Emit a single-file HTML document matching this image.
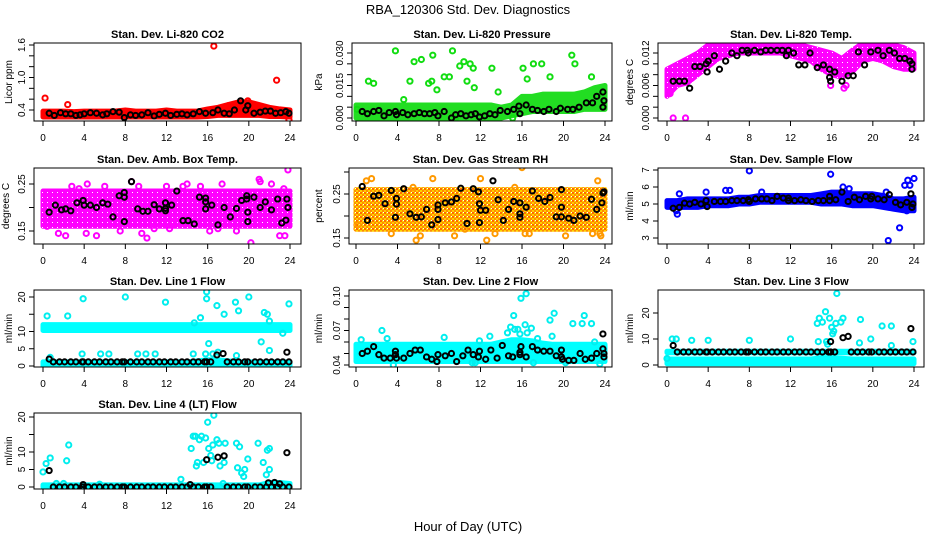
<!DOCTYPE html>
<html><head><meta charset="utf-8"><title>RBA_120306 Std. Dev. Diagnostics</title>
<style>
html,body{margin:0;padding:0;background:#fff;}
svg{display:block;font-family:"Liberation Sans",sans-serif;}
</style></head>
<body>
<svg id="chart" width="936" height="540" viewBox="0 0 936 540" xmlns="http://www.w3.org/2000/svg">
<defs>
<pattern id="pat-rh" width="4" height="4" patternUnits="userSpaceOnUse">
<rect width="4" height="4" fill="#ffd000"/>
<rect x="0" y="0" width="2" height="2" fill="#ff6a00"/>
<rect x="2" y="2" width="2" height="2" fill="#ff8c00"/>
<rect x="3" y="0" width="1" height="1" fill="#fff"/>
</pattern>
<pattern id="pat-mag" width="5" height="5" patternUnits="userSpaceOnUse">
<rect width="5" height="5" fill="#ff00ff"/>
<rect x="2" y="2" width="1" height="1" fill="#fff"/>
</pattern>
</defs>
<rect width="936" height="540" fill="#fff"/>
<text x="468" y="14" text-anchor="middle" font-size="13">RBA_120306  Std. Dev. Diagnostics</text>
<text x="468" y="531" text-anchor="middle" font-size="13">Hour of Day (UTC)</text>
</svg>
<script>
const hours = [0,1,2,3,4,5,6,7,8,9,10,11,12,13,14,15,16,17,18,19,20,21,22,23,24];
const xTicks = [0,4,8,12,16,20,24];

// Panel 1: CO2
const co2Hi = [0.38,0.38,0.38,0.37,0.38,0.38,0.38,0.38,0.40,0.38,0.38,0.38,0.40,0.38,0.38,0.38,0.42,0.45,0.50,0.55,0.55,0.50,0.45,0.42,0.40];
const co2Lo = [0.27,0.27,0.27,0.27,0.27,0.27,0.27,0.27,0.27,0.27,0.27,0.27,0.27,0.27,0.27,0.27,0.28,0.30,0.30,0.30,0.30,0.30,0.28,0.28,0.27];
const co2OutX = [0.2,2.4,16.6,22.7,19.9,18.0,23.9];
const co2OutY = [0.62,0.50,1.58,0.95,0.57,0.48,0.22];
const co2BlkX = [0.6,1.1,1.7,2.2,2.7,3.2,3.6,4.0,4.6,5.2,5.8,6.2,6.8,7.4,7.9,8.5,9.0,9.6,10.2,10.8,11.3,11.9,12.4,13.0,13.5,14.0,14.6,15.2,15.8,16.5,17.0,17.6,18.1,18.6,19.2,19.7,19.9,20.5,21.1,21.6,22.1,22.6,23.1,23.6,23.9];
const co2BlkY = [0.34,0.30,0.35,0.33,0.33,0.30,0.31,0.33,0.35,0.34,0.31,0.33,0.37,0.36,0.26,0.31,0.30,0.31,0.35,0.29,0.32,0.34,0.30,0.32,0.33,0.31,0.33,0.37,0.34,0.35,0.40,0.34,0.33,0.40,0.57,0.40,0.48,0.34,0.36,0.38,0.38,0.34,0.35,0.37,0.34];
const co2Ticks = [0.4,0.6,0.8,1.0,1.2,1.4,1.6];
const co2Labels = [0.4,1.0,1.6];

// Panel 2: Pressure
const prHi = [0.006,0.006,0.006,0.006,0.006,0.006,0.006,0.006,0.006,0.006,0.006,0.006,0.006,0.006,0.005,0.006,0.010,0.010,0.011,0.011,0.011,0.011,0.012,0.014,0.015];
const prLo = [0,0,0,0,0,0,0,0,0,0,0,0,0,0,0,0.001,0.002,0.003,0.003,0.003,0.003,0.003,0.004,0.004,0.004];
const prOutX = [3.8,9.3,7.4,5.6,6.3,1.2,1.7,5.2,7.0,7.3,8.5,9.0,7.8,4.6,10.0,10.4,11.0,11.3,10.7,11.4,13.1,13.7,16.1,16.5,17.1,17.9,18.7,20.8,21.1,22.7,0.1,15.1,9.6];
const prOutY = [0.031,0.031,0.029,0.026,0.027,0.017,0.016,0.017,0.016,0.017,0.019,0.019,0.013,0.0085,0.024,0.026,0.025,0.023,0.017,0.014,0.023,0.012,0.023,0.018,0.025,0.025,0.019,0.029,0.025,0.019,0.004,0.0,0.0];
const prBlkX = [0.6,1.1,1.7,2.2,2.7,3.2,3.8,3.9,4.5,5.0,5.6,6.1,6.6,7.1,7.6,7.9,8.5,9.2,9.6,10.1,10.6,11.1,11.5,11.9,12.4,12.9,13.4,13.9,14.6,15.2,15.7,15.8,16.4,17.0,17.5,18.1,18.6,19.3,19.7,20.4,20.9,21.5,22.2,22.8,23.2,23.8,23.9,23.8];
const prBlkY = [0.003,0.002,0.003,0.0035,0.001,0.0025,0.003,0.0015,0.0025,0.0015,0.002,0.0025,0.002,0.002,0.0025,0.001,0.003,0.0,0.0015,0.002,0.001,0.0015,0.002,0.0005,0.001,0.002,0.0015,0.0035,0.003,0.004,0.0055,0.002,0.006,0.004,0.0035,0.003,0.004,0.003,0.0045,0.004,0.004,0.005,0.007,0.007,0.010,0.012,0.008,0.005];
const prTicks = [0,0.005,0.010,0.015,0.020,0.025,0.030];
const prLabels = [0,0.015,0.030];

// Panel 3: Li-820 temperature
const ltHi = [0.009,0.010,0.011,0.012,0.0135,0.0138,0.0138,0.0138,0.0138,0.0138,0.0138,0.0138,0.0138,0.0135,0.013,0.0125,0.012,0.011,0.0125,0.0138,0.0138,0.0138,0.0135,0.013,0.012];
const ltLo = [0.004,0.006,0.0065,0.008,0.0095,0.011,0.0115,0.012,0.012,0.012,0.012,0.012,0.0115,0.011,0.0105,0.009,0.008,0.0075,0.0085,0.0105,0.011,0.0105,0.0095,0.009,0.009];
const ltOutX = [0.3,0.6,1.8,17.2,17.4,15.9,0.2];
const ltOutY = [0.0045,0.0,0.0,0.0055,0.006,0.006,0.005];
const ltBlkX = [0.6,1.2,1.7,2.2,2.7,3.2,3.8,3.9,4.0,4.6,5.1,5.7,6.3,6.8,7.3,7.8,7.9,8.5,9.1,9.6,10.1,10.7,11.2,11.8,11.6,12.3,12.8,13.4,13.9,14.6,15.2,15.8,15.8,15.9,16.3,17.0,17.6,18.1,18.6,19.2,19.8,20.5,21.0,21.6,22.1,22.6,23.1,23.6,23.8,23.8];
const ltBlkY = [0.0068,0.0068,0.0068,0.0055,0.0095,0.0095,0.0100,0.0085,0.0105,0.0115,0.009,0.0105,0.012,0.0115,0.0125,0.0125,0.012,0.0125,0.0122,0.0125,0.0125,0.0125,0.0125,0.0125,0.0115,0.012,0.0098,0.0098,0.012,0.0093,0.0098,0.009,0.0075,0.0068,0.0085,0.0068,0.0078,0.0078,0.0122,0.0098,0.0122,0.0125,0.0115,0.0125,0.012,0.011,0.011,0.0105,0.0100,0.009];
const ltTicks = [0,0.002,0.004,0.006,0.008,0.010,0.012];
const ltLabels = [0,0.006,0.012];

// Panel 4: Amb box temp
const abHi = [0.235,0.235,0.235,0.235,0.235,0.235,0.235,0.235,0.235,0.235,0.235,0.235,0.235,0.235,0.235,0.235,0.235,0.235,0.235,0.235,0.235,0.235,0.235,0.235,0.235];
const abLo = [0.16,0.16,0.16,0.16,0.16,0.16,0.16,0.16,0.16,0.16,0.16,0.16,0.16,0.16,0.16,0.16,0.16,0.16,0.16,0.16,0.16,0.16,0.16,0.16,0.16];
const abOutX = [0.4,1.5,2.2,2.8,3.5,4.3,4.2,5.2,6.0,7.5,8.6,9.3,9.6,10.1,12.0,13.6,14.0,15.3,16.2,17.4,18.8,20.2,21.1,22.2,23.0,23.5,23.8,23.4,21.0,10.8,12.3,17.0];
const abOutY = [0.16,0.145,0.14,0.245,0.24,0.25,0.145,0.14,0.245,0.15,0.255,0.245,0.145,0.135,0.245,0.245,0.25,0.245,0.15,0.25,0.15,0.125,0.255,0.25,0.14,0.14,0.28,0.24,0.26,0.155,0.155,0.155];
const abBlkX = [0.6,1.2,1.8,2.2,2.7,3.3,3.9,4.0,4.6,5.2,5.8,6.3,6.8,7.4,7.9,7.9,7.9,8.6,9.2,9.7,10.2,10.8,11.3,11.9,11.9,11.9,12.5,13.0,13.6,14.1,14.7,15.2,15.8,15.8,15.8,16.4,17.0,17.6,18.2,18.8,19.3,19.8,19.8,19.9,19.9,20.5,21.1,21.6,22.2,22.8,23.2,23.6,23.7,23.8];
const abBlkY = [0.19,0.205,0.195,0.197,0.193,0.21,0.215,0.205,0.205,0.2,0.21,0.207,0.18,0.225,0.232,0.222,0.17,0.255,0.197,0.192,0.192,0.206,0.197,0.21,0.198,0.193,0.205,0.235,0.172,0.172,0.165,0.222,0.22,0.197,0.212,0.205,0.163,0.2,0.18,0.198,0.215,0.218,0.225,0.19,0.17,0.222,0.2,0.212,0.195,0.218,0.167,0.173,0.218,0.2];
const abTicks = [0.15,0.20,0.25];
const abLabels = [0.15,0.25];

// Panel 5: Gas stream RH
const rhHi = [0.26,0.26,0.26,0.26,0.26,0.26,0.26,0.26,0.26,0.26,0.26,0.26,0.26,0.26,0.26,0.26,0.26,0.26,0.26,0.26,0.26,0.26,0.26,0.26,0.26];
const rhLo = [0.17,0.17,0.17,0.17,0.17,0.17,0.17,0.17,0.17,0.17,0.17,0.17,0.17,0.17,0.17,0.17,0.17,0.17,0.17,0.17,0.17,0.17,0.17,0.17,0.17];
const rhOutX = [0.2,1.0,1.5,3.4,5.8,6.2,7.4,9.5,12.0,12.6,16.0,16.3,16.7,20.2,22.8,23.3,23.5,23.6,15.3,5.5,10.5,13.4];
const rhOutY = [0.18,0.28,0.285,0.16,0.145,0.155,0.285,0.155,0.285,0.145,0.31,0.16,0.16,0.155,0.16,0.28,0.16,0.155,0.265,0.265,0.17,0.16];
const rhBlkX = [0.6,1.1,1.7,2.2,2.8,3.4,3.9,3.9,3.8,4.6,5.2,5.8,6.3,6.8,7.3,7.9,7.9,7.9,8.6,9.2,9.7,10.1,10.7,11.3,11.9,11.8,11.9,12.0,12.5,13.2,13.7,14.2,14.7,15.2,15.8,15.8,15.8,16.4,17.0,17.6,18.2,18.7,19.3,19.8,19.8,19.8,20.5,21.0,21.6,22.2,22.7,23.2,23.7,23.8,23.9];
const rhBlkY = [0.267,0.19,0.245,0.247,0.228,0.258,0.24,0.227,0.197,0.262,0.205,0.197,0.198,0.215,0.18,0.225,0.215,0.192,0.23,0.232,0.24,0.263,0.183,0.262,0.228,0.255,0.185,0.213,0.213,0.28,0.237,0.19,0.215,0.233,0.23,0.205,0.197,0.22,0.257,0.24,0.233,0.242,0.198,0.26,0.22,0.198,0.195,0.19,0.2,0.197,0.238,0.215,0.23,0.252,0.255];
const rhTicks = [0.15,0.20,0.25,0.30];
const rhLabels = [0.15,0.25];

// Panel 6: Sample flow
const sfHi = [5.2,5.2,5.3,5.3,5.3,5.3,5.3,5.4,5.4,5.5,5.5,5.5,5.5,5.5,5.5,5.6,5.7,5.7,5.6,5.6,5.6,5.5,5.3,5.3,5.4];
const sfLo = [4.8,4.8,4.8,4.8,4.9,4.9,4.9,5.0,5.0,5.1,5.1,5.1,5.1,5.1,5.1,5.0,5.0,5.0,4.9,4.9,4.9,4.8,4.7,4.6,4.6];
const sfOutX = [1.0,1.2,3.8,5.7,6.1,8.0,9.2,15.9,17.1,17.7,21.3,21.5,22.6,23.1,23.4,23.6,24.0,23.3,0.9];
const sfOutY = [4.4,5.6,5.7,5.8,5.8,6.95,5.7,6.75,6.0,5.9,5.7,2.85,3.6,6.1,6.4,6.1,6.5,4.6,4.6];
const sfBlkX = [0.6,1.2,1.7,2.2,2.7,3.3,3.8,3.9,4.6,5.2,5.7,6.3,6.8,7.4,7.9,8.0,8.6,9.2,9.7,10.2,10.7,11.3,11.8,11.8,12.4,13.0,13.5,14.1,14.7,15.2,15.8,15.8,16.4,17.0,17.6,18.2,18.7,19.3,19.8,19.9,20.5,21.1,21.6,22.2,22.7,23.3,23.7,23.8,23.9];
const sfBlkY = [4.75,4.8,5.05,5.0,5.1,5.0,5.2,4.85,5.15,5.15,5.15,5.2,5.2,5.2,5.25,5.15,5.3,5.3,5.3,5.2,5.45,5.35,5.2,5.35,5.2,5.25,5.2,5.15,5.2,5.2,5.2,5.45,5.25,5.7,5.15,5.4,5.25,5.45,5.3,5.45,5.3,5.25,5.55,5.1,4.95,5.1,5.6,4.8,5.0];
const sfTicks = [3,4,5,6,7];
const sfLabels = [3,4,5,6,7];

// Shared hour positions of regular black points for line flows
const lineBlkX = [1.0,1.6,2.1,2.7,3.2,3.8,3.9,4.4,5.0,5.5,6.1,6.6,7.2,7.7,7.9,8.5,9.1,9.6,10.2,10.7,11.3,11.8,12.4,12.9,13.5,14.0,14.6,15.1,15.7,15.9,16.3,17.9,18.5,19.0,19.6,19.9,20.6,21.1,21.7,22.2,22.8,23.3,23.9];

// Panel 7: Line 1 flow
const l1HiA = [12,12,12,12,12,12,12,12,12,12,12,12,12,12,12,12,12,12,12,12,12,12,12,12,12];
const l1LoA = [10.3,10.3,10.3,10.3,10.3,10.3,10.3,10.3,10.3,10.3,10.3,10.3,10.3,10.3,10.3,10.3,10.3,10.3,10.3,10.3,10.3,10.3,10.3,10.3,10.3];
const l1HiB = [1.2,1.2,1.2,1.2,1.2,1.2,1.2,1.2,1.2,1.2,1.2,1.2,1.2,1.2,1.2,1.5,1.8,1.8,1.5,1.2,1.2,1.2,1.2,1.2,1.2];
const l1LoB = [0,0,0,0,0,0,0,0,0,0,0,0,0,0,0,0,0,0,0,0,0,0,0,0,0];
const l1OutX = [0.4,2.4,3.9,8.0,11.9,15.3,14.7,15.9,15.9,16.1,16.9,17.6,18.7,19.0,20.0,21.2,21.5,21.8,22.0,22.0,23.3,23.9,0.7,3.8,5.6,6.4,9.2,10.0,10.9,14.6,15.8,16.5,17.0,18.8];
const l1OutY = [14.5,14.5,19.5,20,18.5,14,12.5,21.5,19.5,6.5,17.5,15,18.5,16,20,7,15.5,15,4.5,13,9.5,18,2.5,3.5,3.5,3.5,3.5,3.5,3.5,3.5,3.5,3.5,4.0,3.0];
const l1BlkX = [0.6,16.9,17.5,23.7];
const l1BlkY = [2.0,3.2,3.6,4.0];
const l1BaseY = 1.2;
const l1Ticks = [0,5,10,15,20];
const l1Labels = [0,5,10,20];

// Panel 8: Line 2 flow
const l2Hi = [0.058,0.058,0.058,0.058,0.058,0.058,0.058,0.058,0.058,0.058,0.058,0.058,0.058,0.058,0.060,0.062,0.062,0.061,0.059,0.058,0.058,0.058,0.058,0.058,0.058];
const l2Lo = [0.043,0.043,0.043,0.043,0.043,0.043,0.043,0.043,0.043,0.043,0.043,0.043,0.043,0.043,0.043,0.043,0.043,0.043,0.043,0.043,0.043,0.043,0.043,0.043,0.043];
const l2OutX = [0.5,2.5,3.0,3.6,8.5,11.2,11.5,11.9,12.9,14.6,14.9,15.2,15.3,15.6,15.8,15.9,16.4,16.3,16.9,16.5,17.5,18.7,18.9,19.1,20.2,20.9,21.8,22.0,22.7,23.0,23.5,17.1];
const l2OutY = [0.062,0.07,0.063,0.04,0.064,0.042,0.042,0.061,0.065,0.068,0.073,0.083,0.071,0.071,0.067,0.098,0.102,0.075,0.072,0.068,0.063,0.079,0.065,0.085,0.042,0.076,0.076,0.083,0.076,0.06,0.041,0.042];
const l2BlkX = [0.6,1.1,1.7,2.2,2.7,3.3,3.8,3.8,3.9,4.6,5.2,5.7,6.2,6.8,7.3,7.9,7.8,8.6,9.2,9.7,10.3,10.8,11.3,11.8,11.9,12.5,13.0,13.6,14.1,14.7,15.1,15.8,15.8,15.9,16.4,17.0,17.5,18.1,18.7,19.3,19.8,19.8,19.9,20.5,21.0,21.6,22.1,22.7,23.2,23.8,23.8,23.9,23.9];
const l2BlkY = [0.05,0.052,0.056,0.049,0.046,0.046,0.052,0.049,0.046,0.046,0.05,0.053,0.053,0.047,0.045,0.049,0.043,0.048,0.05,0.043,0.048,0.053,0.049,0.047,0.052,0.045,0.053,0.046,0.057,0.048,0.047,0.049,0.051,0.056,0.047,0.056,0.053,0.052,0.052,0.048,0.053,0.047,0.045,0.044,0.044,0.05,0.045,0.046,0.05,0.067,0.054,0.05,0.047];
const l2Ticks = [0.04,0.05,0.06,0.07,0.08,0.09,0.10];
const l2Labels = [0.04,0.07,0.10];

// Panel 9: Line 3 flow
const l3HiA = [5.3,5.3,5.3,5.3,5.3,5.3,5.3,5.3,5.3,5.3,5.3,5.3,5.3,5.3,5.3,5.3,5.3,5.3,5.3,5.3,5.3,5.3,5.3,5.3,5.3];
const l3LoA = [4.7,4.7,4.7,4.7,4.7,4.7,4.7,4.7,4.7,4.7,4.7,4.7,4.7,4.7,4.7,4.7,4.7,4.7,4.7,4.7,4.7,4.7,4.7,4.7,4.7];
const l3HiB = [2.3,2.3,2.3,2.3,2.3,2.3,2.3,2.3,2.3,2.3,2.3,2.3,2.3,2.3,2.3,2.8,2.8,2.6,2.3,2.3,2.3,2.3,2.3,2.3,2.3];
const l3LoB = [0.5,0.5,0.5,0.5,0.5,0.5,0.5,0.5,0.5,0.5,0.5,0.5,0.5,0.5,0.5,0.5,0.5,0.5,0.5,0.5,0.5,0.5,0.5,0.5,0.5];
const l3OutX = [0.0,0.5,0.9,2.4,4.0,8.0,12.0,14.6,14.8,15.1,15.4,14.7,15.5,15.6,15.8,16.0,16.1,16.2,16.4,16.5,16.9,17.1,18.8,18.7,19.8,20.9,21.8,21.8,23.9];
const l3OutY = [2.5,10,10,9.5,9.5,9.5,10,16,18,16.5,20.5,9,9,8,18,14.5,12,13,16,27.5,16.5,18,17.5,8.5,10,15,15,7.5,9];
const l3BlkX = [0.6,15.9,17.1,17.6,23.7];
const l3BlkY = [7.5,9,10.5,11,14];
const l3BaseY = 5.0;
const l3Ticks = [0,10,20];
const l3Labels = [0,10,20];

// Panel 10: Line 4 (LT) flow
const l4Hi = [0.6,0.6,0.6,0.6,0.6,0.6,0.6,0.6,0.6,0.6,0.6,0.6,0.6,0.6,0.6,0.6,0.6,0.6,0.6,0.6,0.6,0.6,1.3,1.3,1.0];
const l4Lo = [0,0,0,0,0,0,0,0,0,0,0,0,0,0,0,0,0,0,0,0,0,0,0,0,0];
const l4OutX = [0.0,0.3,0.7,2.3,2.5,1.3,2.0,5.5,13.4,14.4,14.6,14.8,14.9,15.0,15.2,15.4,15.6,15.8,16.0,16.3,16.1,16.4,16.5,16.6,16.9,17.1,17.2,17.6,17.7,18.8,18.9,19.1,19.3,19.5,19.6,19.9,20.9,21.4,21.7,21.8,22.0,22.0,17.5];
const l4OutY = [4.3,6.7,8.3,7.5,12,1,1,0.8,2.2,11,14.5,14.5,6,7,13.5,14.5,7,14,18.5,9,11,7.5,12,20.5,13.5,12.5,6,7,12.5,12.5,5.5,11.5,4,3,5,8,12.5,7,3.5,10.5,11,5,1];
const l4BlkX = [0.6,3.9,14.3,15.9,17.0,17.6,21.9,22.5,23.0,23.7];
const l4BlkY = [4.7,0.7,0.7,7.8,8.5,8.9,1.2,1.3,0.9,9.8];
const l4BaseY = 0.0;
const l4Ticks = [0,5,10,15,20];
const l4Labels = [0,5,10,20];

const NS = "http://www.w3.org/2000/svg";
const svg = document.getElementById("chart");
function mk(tag, attrs, parent) {
  const e = document.createElementNS(NS, tag);
  for (const k in attrs) e.setAttribute(k, attrs[k]);
  (parent || svg).appendChild(e);
  return e;
}
function fmt(v, dec) { return v.toFixed(dec); }

function drawPanel(p) {
  const g = mk("g", {});
  
  
  const xs = h => p.x0 + h * (p.x24 - p.x0) / 24;
  const ys = v => p.p1 + (v - p.v1) * (p.p2 - p.p1) / (p.v2 - p.v1);
  const clipId = "clip-" + p.name;
  const cp = mk("clipPath", {id: clipId}, g);
  mk("rect", {x: p.left, y: p.top, width: p.right - p.left, height: p.bottom - p.top}, cp);
  const plot = mk("g", {"clip-path": "url(#" + clipId + ")"}, g);
  
  
  p.bands.forEach((b, bi) => {
    const pts = [];
    hours.forEach((h, i) => pts.push(xs(h) + "," + ys(b.hi[i])));
    for (let i = hours.length - 1; i >= 0; i--) pts.push(xs(hours[i]) + "," + ys(b.lo[i]));
    const poly = mk("polygon", {points: pts.join(" "), fill: p.pattern || p.fill, stroke: p.pattern || p.fill, "stroke-width": 5, "stroke-linejoin": "round"}, plot);
    
    
  });
  p.outX.forEach((x, i) => {
    const c = mk("circle", {cx: xs(x), cy: ys(p.outY[i]), r: 2.6, fill: "none", stroke: p.outStroke, "stroke-width": 2}, plot);
    
    
  });
  const bx = p.blkX.slice(), by = p.blkY.slice();
  if (p.baseX) p.baseX.forEach(x => { bx.push(x); by.push(p.baseY); });
  bx.forEach((x, i) => {
    const c = mk("circle", {cx: xs(x), cy: ys(by[i]), r: 2.6, fill: "none", stroke: "#000", "stroke-width": 2}, plot);
    
    
  });
  const box = mk("rect", {x: p.left, y: p.top, width: p.right - p.left, height: p.bottom - p.top, fill: "none", stroke: "#000", "stroke-width": 1}, g);
  
  
  const t = mk("text", {x: (p.left + p.right) / 2, y: p.top - 5, "text-anchor": "middle", "font-size": 11, "font-weight": "bold"}, g);
  t.textContent = p.title;
  
  
  const xa = mk("g", {}, g);
  
  
  mk("line", {x1: xs(0), x2: xs(24), y1: p.bottom, y2: p.bottom, stroke: "#000"}, xa);
  xTicks.forEach(h => {
    mk("line", {x1: xs(h), x2: xs(h), y1: p.bottom, y2: p.bottom + 5, stroke: "#000"}, xa);
    const tl = mk("text", {x: xs(h), y: p.bottom + 20, "text-anchor": "middle", "font-size": 10}, xa);
    tl.textContent = h;
    
    
  });
  const ya = mk("g", {}, g);
  
  
  mk("line", {x1: p.left, x2: p.left, y1: ys(p.ticks[0]), y2: ys(p.ticks[p.ticks.length - 1]), stroke: "#000"}, ya);
  p.ticks.forEach(v => mk("line", {x1: p.left - 5, x2: p.left, y1: ys(v), y2: ys(v), stroke: "#000"}, ya));
  p.labels.forEach(v => {
    const yy = ys(v), xx = p.left - 9;
    const tl = mk("text", {x: xx, y: yy, "text-anchor": "middle", "font-size": 10, transform: "rotate(-90 " + xx + " " + yy + ")"}, ya);
    tl.textContent = fmt(v, p.dec);
    
    
  });
  const cy = (p.top + p.bottom) / 2;
  const yl = mk("text", {x: p.ylabX, y: cy, "text-anchor": "middle", "font-size": 10, transform: "rotate(-90 " + p.ylabX + " " + cy + ")"}, g);
  yl.textContent = p.ylab;
  
  
}

const C1 = {left: 34, right: 301, x0: 43, x24: 290};
const C2 = {left: 352, right: 612, x0: 356, x24: 605};
const C3 = {left: 658, right: 924, x0: 667, x24: 914};
const R = [{top: 43, bottom: 121}, {top: 168, bottom: 244}, {top: 290, bottom: 367}, {top: 413, bottom: 489}];

drawPanel(Object.assign({}, C1, R[0], {name: "co2", title: "Stan. Dev. Li-820 CO2", ylab: "Licor ppm", ylabX: 12, v1: 0.4, p1: 110, v2: 1.6, p2: 45, dec: 1, fill: "#ff0000", outStroke: "#ff0000", bands: [{hi: co2Hi, lo: co2Lo}], outX: co2OutX, outY: co2OutY, blkX: co2BlkX, blkY: co2BlkY, ticks: co2Ticks, labels: co2Labels}));
drawPanel(Object.assign({}, C2, R[0], {name: "pressure", title: "Stan. Dev. Li-820 Pressure", ylab: "kPa", ylabX: 322, v1: 0, p1: 118, v2: 0.030, p2: 53, dec: 3, fill: "#22dd22", outStroke: "#11dd11", bands: [{hi: prHi, lo: prLo}], outX: prOutX, outY: prOutY, blkX: prBlkX, blkY: prBlkY, ticks: prTicks, labels: prLabels}));
drawPanel(Object.assign({}, C3, R[0], {name: "li820-temp", title: "Stan. Dev. Li-820 Temp.", ylab: "degrees C", ylabX: 633, v1: 0, p1: 118, v2: 0.012, p2: 53, dec: 3, fill: "#ff00ff", pattern: "url(#pat-mag)", outStroke: "#ff00ff", bands: [{hi: ltHi, lo: ltLo}], outX: ltOutX, outY: ltOutY, blkX: ltBlkX, blkY: ltBlkY, ticks: ltTicks, labels: ltLabels}));
drawPanel(Object.assign({}, C1, R[1], {name: "amb-box-temp", title: "Stan. Dev. Amb. Box Temp.", ylab: "degrees C", ylabX: 9, v1: 0.15, p1: 231, v2: 0.25, p2: 184, dec: 2, fill: "#ff00ff", pattern: "url(#pat-mag)", outStroke: "#ff00ff", bands: [{hi: abHi, lo: abLo}], outX: abOutX, outY: abOutY, blkX: abBlkX, blkY: abBlkY, ticks: abTicks, labels: abLabels}));
drawPanel(Object.assign({}, C2, R[1], {left: 349, name: "gas-rh", title: "Stan. Dev. Gas Stream RH", ylab: "percent", ylabX: 322, v1: 0.15, p1: 238, v2: 0.25, p2: 194, dec: 2, fill: "#f6a800", pattern: "url(#pat-rh)", outStroke: "#ff9900", bands: [{hi: rhHi, lo: rhLo}], outX: rhOutX, outY: rhOutY, blkX: rhBlkX, blkY: rhBlkY, ticks: rhTicks, labels: rhLabels}));
drawPanel(Object.assign({}, C3, R[1], {name: "sample-flow", title: "Stan. Dev. Sample Flow", ylab: "ml/min", ylabX: 633, v1: 3, p1: 238, v2: 7, p2: 170, dec: 0, fill: "#0000ff", outStroke: "#0000ff", bands: [{hi: sfHi, lo: sfLo}], outX: sfOutX, outY: sfOutY, blkX: sfBlkX, blkY: sfBlkY, ticks: sfTicks, labels: sfLabels}));
drawPanel(Object.assign({}, C1, R[2], {name: "line1-flow", title: "Stan. Dev. Line 1 Flow", ylab: "ml/min", ylabX: 12, v1: 0, p1: 366, v2: 20, p2: 297, dec: 0, fill: "#00ffff", outStroke: "#00eeee", bands: [{hi: l1HiA, lo: l1LoA}, {hi: l1HiB, lo: l1LoB}], outX: l1OutX, outY: l1OutY, blkX: l1BlkX, blkY: l1BlkY, baseX: lineBlkX, baseY: l1BaseY, ticks: l1Ticks, labels: l1Labels}));
drawPanel(Object.assign({}, C2, R[2], {left: 349, name: "line2-flow", title: "Stan. Dev. Line 2 Flow", ylab: "ml/min", ylabX: 322, v1: 0.04, p1: 365, v2: 0.10, p2: 296, dec: 2, fill: "#00ffff", outStroke: "#00eeee", bands: [{hi: l2Hi, lo: l2Lo}], outX: l2OutX, outY: l2OutY, blkX: l2BlkX, blkY: l2BlkY, ticks: l2Ticks, labels: l2Labels}));
drawPanel(Object.assign({}, C3, R[2], {name: "line3-flow", title: "Stan. Dev. Line 3 Flow", ylab: "ml/min", ylabX: 633, v1: 0, p1: 365, v2: 20, p2: 313, dec: 0, fill: "#00ffff", outStroke: "#00eeee", bands: [{hi: l3HiA, lo: l3LoA}, {hi: l3HiB, lo: l3LoB}], outX: l3OutX, outY: l3OutY, blkX: l3BlkX, blkY: l3BlkY, baseX: lineBlkX, baseY: l3BaseY, ticks: l3Ticks, labels: l3Labels}));
drawPanel(Object.assign({}, C1, R[3], {name: "line4-flow", title: "Stan. Dev. Line 4 (LT) Flow", ylab: "ml/min", ylabX: 12, v1: 0, p1: 487, v2: 20, p2: 417, dec: 0, fill: "#00ffff", outStroke: "#00eeee", bands: [{hi: l4Hi, lo: l4Lo}], outX: l4OutX, outY: l4OutY, blkX: l4BlkX, blkY: l4BlkY, baseX: lineBlkX, baseY: l4BaseY, ticks: l4Ticks, labels: l4Labels}));
</script>
</body></html>
